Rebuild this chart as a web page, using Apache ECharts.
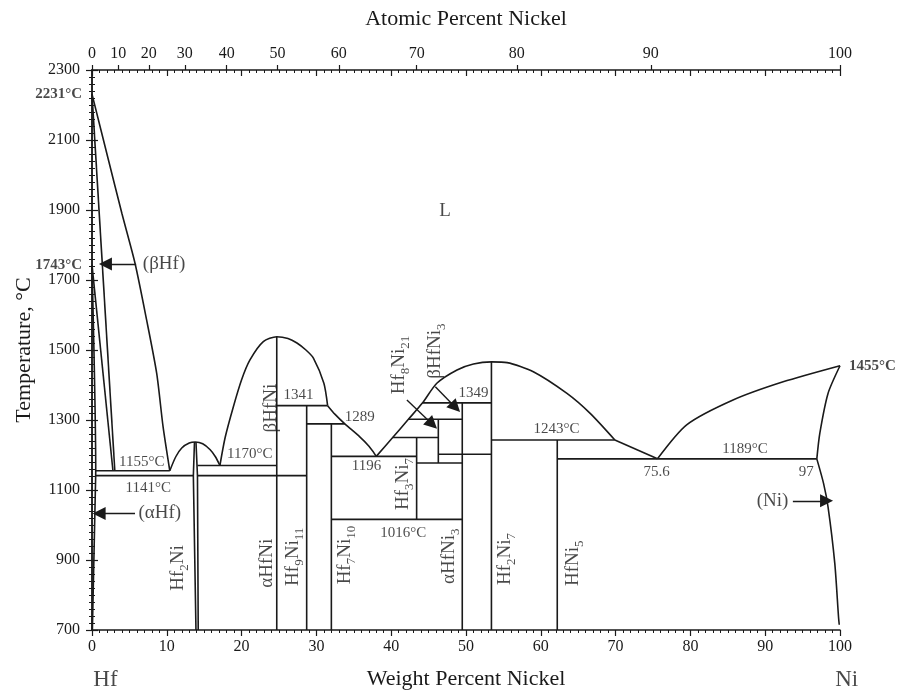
<!DOCTYPE html>
<html><head><meta charset="utf-8">
<script src="https://cdn.jsdelivr.net/npm/echarts@6/dist/echarts.min.js"></script>
<style>html,body{margin:0;padding:0;background:#fff}#c{width:897px;height:695px}</style>
</head><body><div id="c"></div><script>
// ---- axis tick data ----
const atLabels = ['0','10','20','30','40','50','60','70','80','90','100'];
const atTickWt = [0, 3.5, 7.6, 12.4, 18.0, 24.8, 33.0, 43.4, 56.8, 74.7, 100];

// ---- phase boundaries [wt% Ni, °C] ----
const hfLiquidus   = [[0,2231],[2.2,2043],[4.0,1890],[5.75,1748],[7.3,1586],[8.65,1433],[9.5,1281],[10.4,1155]];
const hfSolidus    = [[0,2231],[3.05,1155]];
const betaTransus  = [[0,1743],[2.8,1155]];
const alphaSolvus  = [[0,1743],[0.5,1155],[0.45,1100],[0.25,900],[0.05,700]];
const eut1155      = [[0.5,1155],[10.4,1155]];
const eut1141      = [[0.5,1141],[13.55,1141]];
const line1141b    = [[14.1,1141],[28.7,1141]];
const eut1170      = [[14.1,1170],[24.7,1170]];
const hf2NiDome    = [[10.4,1155],[11.2,1195],[12.0,1220],[13.0,1234],[13.8,1237],[14.8,1232],[15.8,1215],[16.5,1195],[17.1,1170]];
const hf2NiLeft    = [[13.7,1237],[13.55,1141],[13.9,700]];
const hf2NiRight   = [[13.9,1237],[14.1,1141],[14.2,700]];
const hfNiDome     = [[17.1,1170],[17.8,1250],[18.9,1338],[20.0,1415],[21.1,1471],[22.9,1524],[24.7,1538],[26.2,1533],[27.4,1520],[28.6,1500],[29.6,1477],[31.0,1405],[31.5,1341]];
const hfNiLine     = [[24.7,1538],[24.7,700]];
const per1341      = [[24.7,1341],[31.5,1341]];
const hf9Ni11      = [[28.7,1341],[28.7,700]];
const per1289      = [[28.7,1289],[33.8,1289]];
const hf7Ni10      = [[32.0,1289],[32.0,700]];
const midLiquidus  = [[31.5,1341],[32.5,1316],[33.8,1289],[35.8,1252],[37.0,1226],[38.0,1196]];
const eut1196      = [[32.0,1196],[43.4,1196]];
const eut1016      = [[32.0,1016],[49.5,1016]];
const hf3Ni7       = [[43.4,1250],[43.4,1016]];
const per1250      = [[40.2,1250],[46.3,1250]];
const per1302      = [[42.3,1302],[49.5,1302]];
const per1349      = [[44.2,1349],[53.4,1349]];
const hf8Ni21      = [[46.3,1302],[46.3,1177]];
const line1202     = [[46.3,1202],[53.4,1202]];
const line1177     = [[43.4,1177],[49.5,1177]];
const hfNi3        = [[49.5,1349],[49.5,700]];
const hf2Ni7       = [[53.4,1466],[53.4,700]];
const bigDome      = [[38.0,1196],[40.2,1250],[42.3,1302],[44.2,1349],[46.1,1405],[48.8,1443],[51.0,1460],[53.4,1466],[55.5,1464],[59.0,1438],[63.5,1376],[66.6,1319],[69.9,1243]];
const per1243      = [[53.4,1243],[69.9,1243]];
const hfNi5        = [[62.2,1243],[62.2,700]];
const hfNi5Liq     = [[69.9,1243],[75.6,1189]];
const eut1189      = [[62.2,1189],[96.9,1189]];
const niLiquidus   = [[75.6,1189],[79.5,1286],[85.7,1357],[92.4,1409],[100,1455]];
const niSolidus    = [[100,1455],[98.4,1376],[97.3,1262],[96.9,1189]];
const niSolvus     = [[96.9,1189],[97.8,1119],[98.4,1052],[99.3,891],[99.8,738],[99.9,715]];

const curves   = [hfLiquidus, hf2NiDome, hfNiDome, midLiquidus, bigDome, niLiquidus, niSolidus, niSolvus, alphaSolvus];
const straight = [hfSolidus, betaTransus, eut1155, eut1141, line1141b, eut1170, hf2NiLeft, hf2NiRight, hfNiLine,
  per1341, hf9Ni11, per1289, hf7Ni10, eut1196, eut1016, hf3Ni7, per1250, per1302, per1349, hf8Ni21, line1202,
  line1177, hfNi3, hf2Ni7, per1243, hfNi5, hfNi5Liq, eut1189];

// ---- arrows [from, to] (arrowhead centred at "to") ----
const arrows = [
  [[5.9,1746],[1.8,1746]],
  [[5.75,1033],[0.95,1033]],
  [[93.7,1069],[98.2,1069]],
  [[42.1,1357],[45.5,1288]],
  [[45.9,1395],[48.6,1336]]
];

// ---- annotations ----
const numLabels = [
  {at:[6.64,1181], text:'1155°C'}, {at:[7.53,1105], text:'1141°C'}, {at:[21.1,1203], text:'1170°C'},
  {at:[27.6,1371], text:'1341'}, {at:[35.8,1308], text:'1289'}, {at:[36.7,1169], text:'1196'},
  {at:[51.0,1378], text:'1349'}, {at:[41.6,976], text:'1016°C'}, {at:[62.1,1273], text:'1243°C'},
  {at:[87.3,1216], text:'1189°C'}, {at:[75.5,1151], text:'75.6'}, {at:[95.5,1152], text:'97'}
];
const phaseLabels = [
  {at:[47.2,1897], text:'L', align:'center'},
  {at:[6.8,1746], text:'(βHf)', align:'left'},
  {at:[6.2,1033], text:'(αHf)', align:'left'},
  {at:[93.1,1069], text:'(Ni)', align:'right'}
];
const vertLabels = [
  {at:[23.9,1334], text:'βHfNi'}, {at:[41.0,1457], text:'Hf{s|8}Ni{s|21}'}, {at:[45.9,1497], text:'βHfNi{s|3}'},
  {at:[11.5,877], text:'Hf{s|2}Ni'}, {at:[23.4,891], text:'αHfNi'}, {at:[26.9,909], text:'Hf{s|9}Ni{s|11}'},
  {at:[33.8,914], text:'Hf{s|7}Ni{s|10}'}, {at:[41.6,1117], text:'Hf{s|3}Ni{s|7}'}, {at:[47.7,911], text:'αHfNi{s|3}'},
  {at:[55.2,903], text:'Hf{s|2}Ni{s|7}'}, {at:[64.3,891], text:'HfNi{s|5}'}
];
const boldLabels = [
  {at:[0,2231], text:'2231°C', side:'left'}, {at:[0,1743], text:'1743°C', side:'left'}, {at:[100,1455], text:'1455°C', side:'right'}
];
const endLabels = [{at:[1.8,557], text:'Hf'}, {at:[100.9,557], text:'Ni'}];

const serif = '"Liberation Serif", "Times New Roman", serif';
const ink = '#1a1a1a';
const richSub = {s:{fontSize:13, fontFamily:serif, color:ink, verticalAlign:'bottom', lineHeight:13}};

function lineSeries(data, smooth){
  return {type:'line', data, showSymbol:false, symbol:'none', smooth: smooth, silent:true,
    lineStyle:{color:ink, width:1.6}, z:3, animation:false};
}
function textItem(a, lbl){
  return {value:a.at, label:Object.assign({show:true, position:'inside', formatter:a.text,
    fontFamily:serif, color:ink}, lbl)};
}
const textData = []
  .concat(numLabels.map(a=>textItem(a,{fontSize:15})))
  .concat(phaseLabels.map(a=>textItem(a,{fontSize:19, align:a.align})))
  .concat(vertLabels.map(a=>textItem(a,{fontSize:19, rotate:90, lineHeight:26, rich:richSub})))
  .concat(boldLabels.map(a=>textItem(a,{fontSize:15, fontWeight:'bold', align:a.side==='left'?'right':'left',
     offset:[a.side==='left'?-10:9,0]})))
  .concat(endLabels.map(a=>textItem(a,{fontSize:23})));

const axisText = {fontFamily:serif, color:ink, fontSize:16};
const chart = echarts.init(document.getElementById('c'));
chart.setOption({
  animation:false,
  backgroundColor:'#fff',
  grid:{left:92, right:57, top:70, bottom:65},
  xAxis:[
    {type:'value', position:'bottom', min:0, max:100, interval:10,
     name:'Weight Percent Nickel', nameLocation:'middle', nameGap:38,
     nameTextStyle:{fontFamily:serif, color:ink, fontSize:22},
     axisLine:{lineStyle:{color:ink, width:1.5}},
     axisTick:{length:6, lineStyle:{color:ink, width:1.2}},
     minorTick:{show:true, splitNumber:10, length:3, lineStyle:{color:ink, width:1}},
     axisLabel:Object.assign({margin:9, formatter:v=>String(v)}, axisText), splitLine:{show:false}},
    {type:'value', position:'top', min:0, max:100, interval:10,
     axisLine:{lineStyle:{color:ink, width:1.5}},
     axisTick:{inside:true, length:6, lineStyle:{color:ink, width:1.2}},
     minorTick:{show:true, splitNumber:10, length:3, lineStyle:{color:ink, width:1}},
     axisLabel:{show:false}, splitLine:{show:false}},
    {type:'value', position:'top', min:0, max:100,
     name:'Atomic Percent Nickel', nameLocation:'middle', nameGap:40,
     nameTextStyle:{fontFamily:serif, color:ink, fontSize:22},
     axisLine:{show:false},
     axisTick:{show:true, customValues:atTickWt, length:5, lineStyle:{color:ink, width:1.2}},
     axisLabel:Object.assign({customValues:atTickWt, margin:8, formatter:function(v){
        const i = atTickWt.findIndex(t=>Math.abs(t-v)<1e-6); return i>=0?atLabels[i]:''; }}, axisText),
     splitLine:{show:false}}
  ],
  yAxis:[
    {type:'value', position:'left', min:700, max:2300, interval:200,
     name:'Temperature, °C', nameLocation:'middle', nameGap:57,
     nameTextStyle:{fontFamily:serif, color:ink, fontSize:22},
     axisLine:{show:true, lineStyle:{color:ink, width:1.5}},
     axisTick:{show:true, length:6, lineStyle:{color:ink, width:1.2}},
     minorTick:{show:true, splitNumber:10, length:3, lineStyle:{color:ink, width:1}},
     axisLabel:Object.assign({margin:12, formatter:v=>String(v)}, axisText), splitLine:{show:false}},
    {type:'value', position:'right', min:700, max:2300, interval:200,
     axisLine:{show:true, lineStyle:{color:ink, width:1.5}},
     axisTick:{show:true, length:6, lineStyle:{color:ink, width:1.2}},
     minorTick:{show:true, splitNumber:10, length:3, lineStyle:{color:ink, width:1}},
     axisLabel:{show:false}, splitLine:{show:false}}
  ],
  series: []
    .concat(curves.map(d=>lineSeries(d, 0.25)))
    .concat(straight.map(d=>lineSeries(d, false)))
    .concat([{type:'lines', coordinateSystem:'cartesian2d', xAxisIndex:0, yAxisIndex:0, silent:true,
       symbol:['none','triangle'], symbolSize:[0,13], z:4,
       lineStyle:{color:ink, width:1.4, opacity:1, curveness:0},
       itemStyle:{color:ink},
       data: arrows.map(a=>({coords:a}))}])
    .concat([{type:'scatter', symbolSize:0, clip:false, silent:true, z:5, data:textData}])
});
</script></body></html>
